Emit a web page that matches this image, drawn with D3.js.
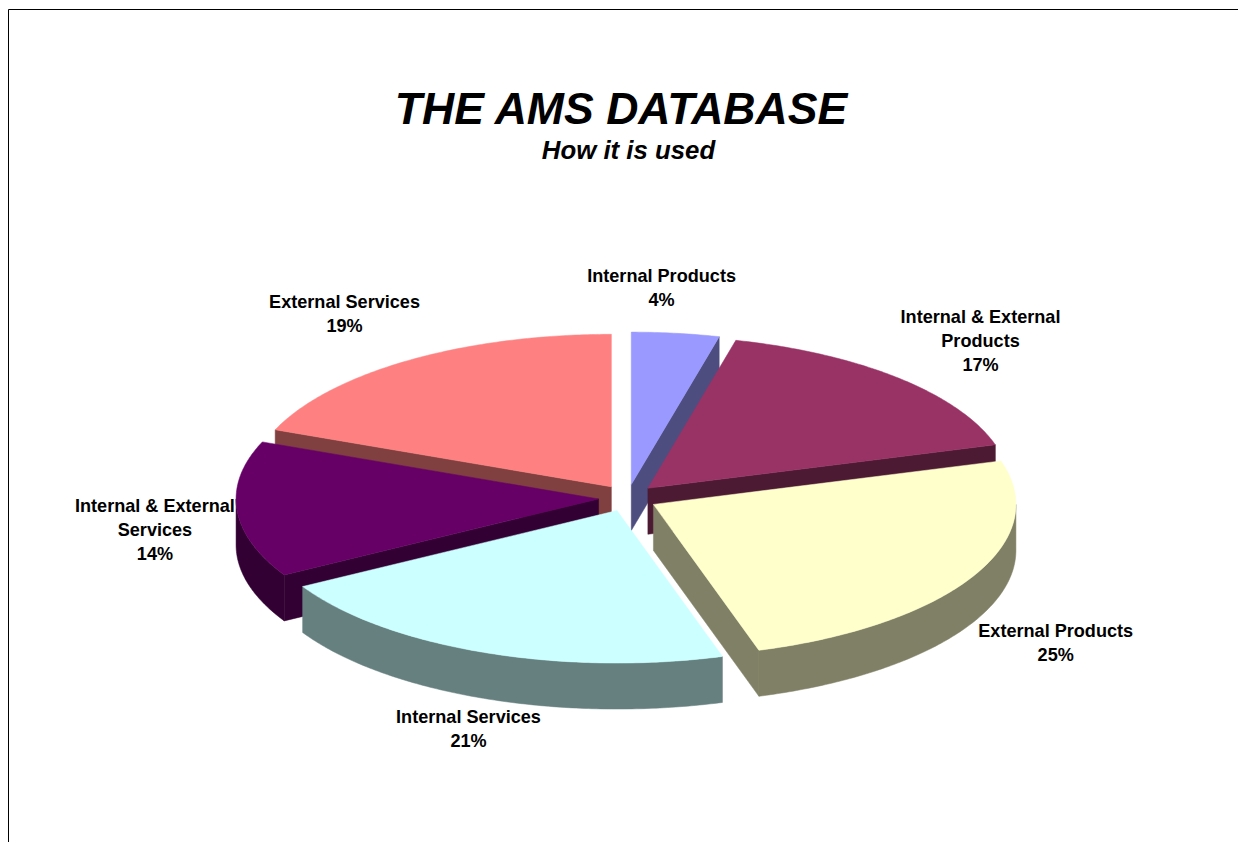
<!DOCTYPE html>
<html>
<head>
<meta charset="utf-8">
<script src="https://cdn.jsdelivr.net/npm/d3@7"></script>
<style>
    html, body { margin: 0; padding: 0; background: #fff; overflow: hidden; }
    svg { display: block; }
    text { font-family: "Liberation Sans", Arial, sans-serif; font-weight: bold; fill: #000; }
</style>
</head>
<body>
<div id="chart"></div>
<script>
    // values, clockwise from 12 o'clock
    const categories = [
        ['Internal Products'],
        ['Internal & External', 'Products'],
        ['External Products'],
        ['Internal Services'],
        ['Internal & External', 'Services'],
        ['External Services']
    ];
    const shares = [3.9, 16.5, 24.9, 21.4, 14.4, 18.9];

    const colors = ['#9999ff', '#993366', '#ffffcc', '#ccffff', '#660066', '#ff8080'];
    const labelOffsets = [[-14, -51], [82, -55], [83, 60.5], [-15, 71], [-82, 2.5], [-64, -52]];

    const width = 1238, height = 842;
    const cx = 627.7, cy = 498;
    const rx = 362.5, ry = 152.5, depth = 46;
    const explodeX = 29.2, explodeY = 13.5;
    const lineHeight = 24;

    const svg = d3.select('#chart').append('svg')
        .attr('width', width)
        .attr('height', height);

    svg.append('path')
        .attr('d', `M${width},9.5H8.5V${height}`)
        .attr('fill', 'none')
        .attr('stroke', '#000')
        .attr('stroke-width', 1);

    svg.append('text')
        .attr('x', 621)
        .attr('y', 124)
        .attr('text-anchor', 'middle')
        .style('font-size', '44.6px')
        .style('font-style', 'italic')
        .text('THE AMS DATABASE');

    svg.append('text')
        .attr('x', 628.5)
        .attr('y', 159)
        .attr('text-anchor', 'middle')
        .style('font-size', '25.8px')
        .style('font-style', 'italic')
        .text('How it is used');

    const pie = d3.pie().sort(null).value(d => d.share);
    const slices = pie(categories.map((name, i) => ({
        name: name,
        share: shares[i],
        color: colors[i],
        offset: labelOffsets[i]
    })));

    // unit circle to screen, flattened into the tilted ellipse
    const scaleX = d3.scaleLinear().domain([-1, 1]).range([-rx, rx]);
    const scaleY = d3.scaleLinear().domain([-1, 1]).range([-ry, ry]);
    const line = d3.line();

    function midAngle(d) {
        return (d.startAngle + d.endAngle) / 2;
    }

    function apex(d) {
        const mid = midAngle(d);
        return [cx + explodeX * Math.sin(mid), cy - explodeY * Math.cos(mid)];
    }

    function rimPoint(d, angle) {
        const a = apex(d);
        return [a[0] + scaleX(Math.sin(angle)), a[1] - scaleY(Math.cos(angle))];
    }

    function rimPoints(d, from, to) {
        const steps = Math.max(2, Math.ceil((to - from) * 90));
        return d3.range(steps + 1).map(i => rimPoint(d, from + (to - from) * i / steps));
    }

    function drop(points) {
        return points.map(p => [p[0], p[1] + depth]).reverse();
    }

    function wallColor(color) {
        const c = d3.rgb(color);
        return d3.rgb(c.r / 2, c.g / 2, c.b / 2).formatHex();
    }

    // back to front, so nearer slices cover what they should
    const ordered = slices.slice().sort((a, b) => d3.descending(Math.cos(midAngle(a)), Math.cos(midAngle(b))));

    const groups = svg.selectAll('g.slice')
        .data(ordered)
        .enter().append('g')
        .attr('class', 'slice');

    groups.each(function(d) {
        const g = d3.select(this);
        const dark = wallColor(d.data.color);
        const a = apex(d);

        function addWall(points) {
            g.append('path')
                .attr('d', line(points.concat(drop(points))) + 'Z')
                .attr('fill', dark)
                .attr('stroke', dark)
                .attr('stroke-width', 0.5);
        }

        // cut faces turned towards the viewer
        if (Math.sin(d.startAngle) < -1e-6) {
            addWall([a, rimPoint(d, d.startAngle)]);
        }
        if (Math.sin(d.endAngle) > 1e-6) {
            addWall([a, rimPoint(d, d.endAngle)]);
        }

        // outer rim, only the near half of the ellipse shows
        const from = Math.max(d.startAngle, Math.PI / 2);
        const to = Math.min(d.endAngle, Math.PI * 1.5);
        if (to > from) {
            addWall(rimPoints(d, from, to));
        }

        g.append('path')
            .attr('d', line([a].concat(rimPoints(d, d.startAngle, d.endAngle))) + 'Z')
            .attr('fill', d.data.color)
            .attr('stroke', d.data.color)
            .attr('stroke-width', 0.5);
    });

    const labels = svg.selectAll('text.label')
        .data(slices)
        .enter().append('text')
        .attr('class', 'label')
        .attr('text-anchor', 'middle')
        .style('font-size', '18.1px');

    labels.each(function(d) {
        const rim = rimPoint(d, midAngle(d));
        const x = rim[0] + d.data.offset[0];
        const y = rim[1] + d.data.offset[1];
        const rows = d.data.name.concat(d3.format('.0f')(d.data.share) + '%');
        d3.select(this).selectAll('tspan')
            .data(rows)
            .enter().append('tspan')
            .attr('x', x)
            .attr('y', (row, i) => y + i * lineHeight)
            .text(row => row);
    });
</script>
</body>
</html>
